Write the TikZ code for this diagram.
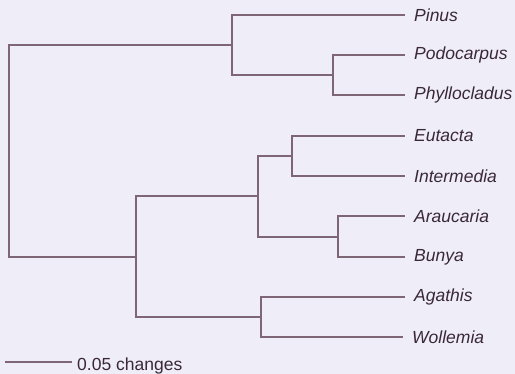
\documentclass[tikz,border=0pt]{standalone}
\usepackage{fontspec}
\setmainfont{Liberation Sans}
\definecolor{bg}{HTML}{EFEEF8}
\definecolor{br}{HTML}{7E6676}
\definecolor{tx}{HTML}{3A2838}
\begin{document}
\begin{tikzpicture}[x=1pt,y=-1pt,
  branch/.style={draw=br,line width=1.2pt},
  leaf/.style={anchor=west,inner sep=0pt,xshift=9pt,text=tx,font=\fontsize{17.5}{19}\selectfont\itshape},
  scaletext/.style={anchor=west,inner sep=0pt,text=tx,font=\fontsize{17.5}{19}\selectfont}]
\fill[bg] (0,0) rectangle (515,374);
\useasboundingbox (0,0) rectangle (515,374);
% leaf tips
\coordinate (lPinus) at (405,15);
\coordinate (lPodo) at (405,55);
\coordinate (lPhyl) at (405,95);
\coordinate (lEuta) at (405,136);
\coordinate (lInte) at (405,176);
\coordinate (lArau) at (405,216);
\coordinate (lBuny) at (405,257);
\coordinate (lAgat) at (405,297);
\coordinate (lWoll) at (403,337);
% internal nodes
\coordinate (nPP) at (333,75);
\coordinate (nTop) at (232,45);
\coordinate (nEI) at (292,156);
\coordinate (nAB) at (338,237);
\coordinate (nEIAB) at (258,196);
\coordinate (nAW) at (261,317);
\coordinate (nLow) at (136,257);
\coordinate (nRoot) at (9,150);
% labels
\node[leaf] (tPinus) at (lPinus) {Pinus};
\node[leaf] (tPodo) at (lPodo) {Podocarpus};
\node[leaf] (tPhyl) at (lPhyl) {Phyllocladus};
\node[leaf] (tEuta) at (lEuta) {Eutacta};
\node[leaf] (tInte) at (lInte) {Intermedia};
\node[leaf] (tArau) at (lArau) {Araucaria};
\node[leaf] (tBuny) at (lBuny) {Bunya};
\node[leaf] (tAgat) at (lAgat) {Agathis};
\node[leaf] (tWoll) at (lWoll) {Wollemia};
% branches
\draw[branch] (nRoot) |- (nTop);
\draw[branch] (nRoot) |- (nLow);
\draw[branch] (nTop) |- (lPinus);
\draw[branch] (nTop) |- (nPP);
\draw[branch] (nPP) |- (lPodo);
\draw[branch] (nPP) |- (lPhyl);
\draw[branch] (nLow) |- (nEIAB);
\draw[branch] (nLow) |- (nAW);
\draw[branch] (nEIAB) |- (nEI);
\draw[branch] (nEIAB) |- (nAB);
\draw[branch] (nEI) |- (lEuta);
\draw[branch] (nEI) |- (lInte);
\draw[branch] (nAB) |- (lArau);
\draw[branch] (nAB) |- (lBuny);
\draw[branch] (nAW) |- (lAgat);
\draw[branch] (nAW) |- (lWoll);
% scale bar
\coordinate (sA) at (5,362);
\coordinate (sB) at (72,362);
\draw[branch] (sA) -- (sB);
\node[scaletext] (tScale) at ([xshift=5pt,yshift=-4pt]sB) {0.05 changes};
\end{tikzpicture}
\end{document}
